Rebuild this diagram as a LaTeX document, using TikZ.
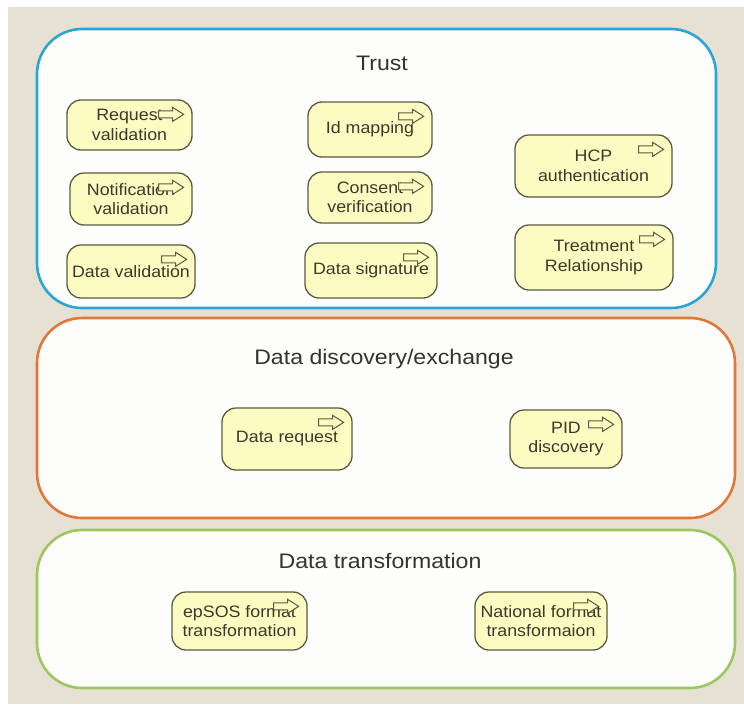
\documentclass[tikz,border=0pt]{standalone}
\usepackage{fontspec}
\setmainfont{Liberation Sans}
\newfontfamily\procfont[FakeStretch=1.08]{Liberation Sans}
\newfontfamily\titlefont[FakeStretch=1.1]{Liberation Sans}
\definecolor{bgbeige}{HTML}{E7E1D4}
\definecolor{panelfill}{HTML}{FDFDFB}
\definecolor{trustc}{HTML}{2BA5D6}
\definecolor{discc}{HTML}{E0783A}
\definecolor{transc}{HTML}{9CC65E}
\definecolor{procfill}{HTML}{FCFCC2}
\definecolor{procline}{HTML}{5C5A40}
\definecolor{proctext}{HTML}{3A3A2A}
\tikzset{
  panel/.style={line width=2.6pt, rounded corners=45pt, fill=panelfill},
  paneltitle/.style={font=\titlefont\fontsize{21}{24}\selectfont, text=black!80},
  proc/.style={draw=procline, fill=procfill, line width=1.3pt, rounded corners=14pt,
    align=center, inner sep=1pt, text=proctext, font=\procfont\fontsize{16.5}{19.5}\selectfont},
  hollowarrow/.pic={
    \draw[procline, fill=procfill, line width=1pt, line join=miter]
      (-25,-3.5) -- (-11,-3.5) -- (-11,-7) -- (0,0) -- (-11,7) -- (-11,3.5) -- (-25,3.5) -- cycle;
  }
}
\newcommand{\procarrow}[1]{\pic at ([shift={(-9,15)}]#1.north east) {hollowarrow};}
\begin{document}
\begin{tikzpicture}[x=1pt,y=-1pt]
  % page and beige backdrop
  \useasboundingbox (0,0) rectangle (744,704);
  \fill[white] (0,0) rectangle (744,704);
  \fill[bgbeige] (8,7) rectangle (744,704);

  % the three layers
  \draw[panel, draw=trustc] (37,29) rectangle (716,308);
  \draw[panel, draw=discc]  (37,318) rectangle (735,518);
  \draw[panel, draw=transc] (37,530) rectangle (735,688);

  \node[paneltitle] (ttrust) at (382,63) {Trust};
  \node[paneltitle] (tdisc)  at (384,359) {Data discovery/exchange};
  \node[paneltitle] (ttrans) at (380,561) {Data transformation};

  % Trust layer processes
  \node[proc, minimum width=125pt, minimum height=50pt] (reqval)  at (129.5,125)   {Request\\validation};
  \node[proc, minimum width=122pt, minimum height=52pt] (notval)  at (131,199)     {Notification\\validation};
  \node[proc, minimum width=128pt, minimum height=53pt] (dataval) at (131,271.5)   {Data validation};
  \node[proc, minimum width=124pt, minimum height=55pt] (idmap)   at (370,129.5)   {Id mapping};
  \node[proc, minimum width=124pt, minimum height=51pt] (consent) at (370,197.5)   {Consent\\verification};
  \node[proc, minimum width=132pt, minimum height=55pt] (datasig) at (371,270.5)   {Data signature};
  \node[proc, minimum width=157pt, minimum height=62pt] (hcp)     at (593.5,166)   {HCP\\authentication};
  \node[proc, minimum width=158pt, minimum height=65pt] (treat)   at (594,257.5)   {Treatment\\Relationship};

  % Data discovery/exchange layer processes
  \node[proc, minimum width=130pt, minimum height=62pt] (datareq) at (287,439)     {Data request};
  \node[proc, minimum width=112pt, minimum height=58pt] (pid)     at (566,439)     {PID\\discovery};

  % Data transformation layer processes
  \node[proc, minimum width=135pt, minimum height=58pt] (epsos)   at (239.5,621)   {epSOS format\\transformation};
  \node[proc, minimum width=132pt, minimum height=58pt] (natfmt)  at (541,621)     {National format\\transformaion};

  % process markers
  \foreach \n in {reqval,notval,dataval,idmap,consent,datasig,hcp,treat,datareq,pid,epsos,natfmt}
    {\procarrow{\n}}
\end{tikzpicture}
\end{document}
